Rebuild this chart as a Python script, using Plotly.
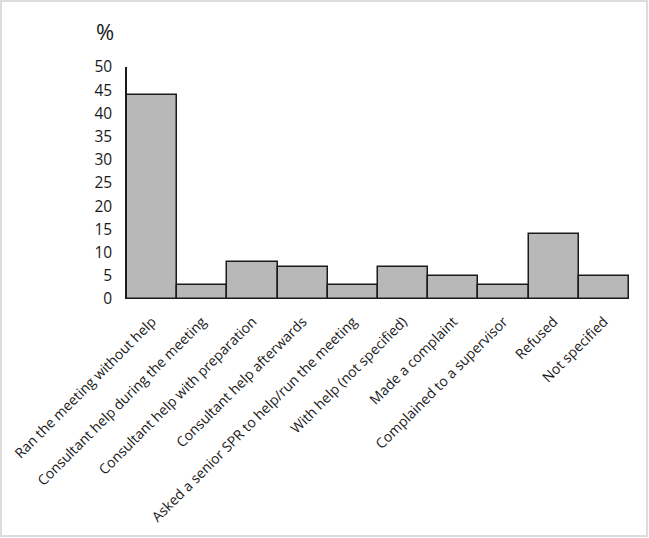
import plotly.graph_objects as go

categories = [
    "Ran the meeting without help",
    "Consultant help during the meeting",
    "Consultant help with preparation",
    "Consultant help afterwards",
    "Asked a senior SPR to help/run the meeting",
    "With help (not specified)",
    "Made a complaint",
    "Complained to a supervisor",
    "Refused",
    "Not specified",
]
percent = [44, 3, 8, 7, 3, 7, 5, 3, 14, 5]
y_ticks = [0, 5, 10, 15, 20, 25, 30, 35, 40, 45, 50]

W, H = 649, 538
L, R, T, B = 127, 20, 67, 239
pw, ph = W - L - R, H - T - B

fig = go.Figure()
fig.add_trace(go.Bar(
    x=categories, y=percent,
    marker=dict(color="#b8b8b8", line=dict(color="#1a1a1a", width=1.5)),
    showlegend=False,
))

font = "Open Sans, Segoe UI, sans-serif"

fig.update_layout(
    width=W, height=H,
    margin=dict(l=L, r=R, t=T, b=B, autoexpand=False),
    paper_bgcolor="white", plot_bgcolor="white",
    bargap=0,
    font=dict(family=font, size=14, color="#1a1a1a"),
)
fig.update_xaxes(
    type="category", range=[-0.5, 9.5],
    tickangle=-45, tickfont=dict(size=14),
    showline=False, showgrid=False, zeroline=False,
    ticks="outside", ticklen=8, tickcolor="rgba(0,0,0,0)",
)
fig.update_yaxes(
    range=[0, 50], tickvals=y_ticks,
    tickfont=dict(size=15.5),
    showline=True, linecolor="#1a1a1a", linewidth=1.5,
    showgrid=False, zeroline=False,
    ticks="outside", ticklen=10, tickcolor="rgba(0,0,0,0)",
)

# "%" axis caption
fig.add_annotation(
    text="%", xref="paper", yref="paper",
    x=(105 - L) / pw, y=(H - B - 31) / ph,
    showarrow=False, font=dict(size=22, color="#1a1a1a"),
    xanchor="center", yanchor="middle",
)

# light frame around the image
fig.add_shape(
    type="rect", xref="paper", yref="paper",
    x0=(1 - L) / pw, x1=(W - 2 - L) / pw,
    y0=(H - B - (H - 2)) / ph, y1=(H - B - 1) / ph,
    line=dict(color="#dcdcdc", width=2), fillcolor="rgba(0,0,0,0)",
    layer="below",
)

fig.write_html(
    "out.html",
    config={"displayModeBar": False},
    post_script="document.body.style.margin='0';",
)
